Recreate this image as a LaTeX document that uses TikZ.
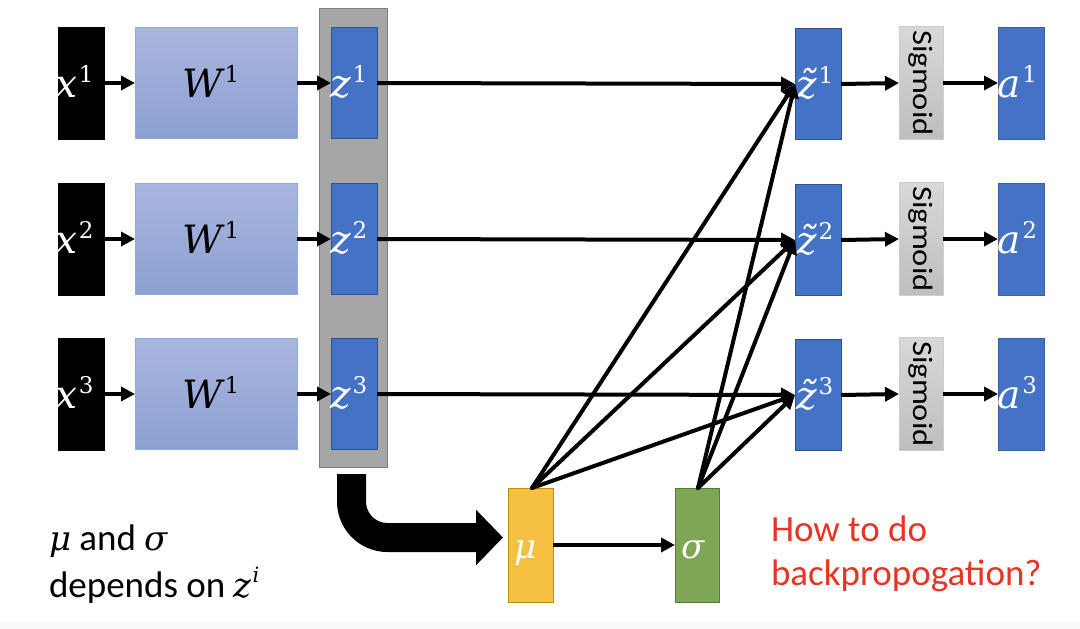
\RequirePackage{fix-cm}
\documentclass[tikz,border=0pt]{standalone}
\usepackage[no-math]{fontspec}
\setmainfont{Carlito}
\newfontfamily\cambria{DejaVu Serif}
\usetikzlibrary{arrows.meta}
\newcommand{\vlab}[2]{{\cambria\fontsize{39}{40}\selectfont\itshape #1}{\cambria\fontsize{23}{23}\selectfont\kern2pt\raisebox{15pt}{#2}}}
\newcommand{\sym}[1]{{\cambria\fontsize{34}{40}\selectfont\itshape #1}}
\definecolor{zblue}{RGB}{68,114,196}
\definecolor{zborder}{RGB}{47,82,143}
\definecolor{wtop}{RGB}{170,182,222}
\definecolor{wbot}{RGB}{140,160,211}
\definecolor{wborder}{RGB}{143,170,220}
\definecolor{grayfill}{RGB}{166,166,166}
\definecolor{grayborder}{RGB}{127,127,127}
\definecolor{sigtop}{RGB}{216,216,216}
\definecolor{sigbot}{RGB}{190,190,190}
\definecolor{sigborder}{RGB}{205,205,205}
\definecolor{mufill}{RGB}{245,192,66}
\definecolor{muborder}{RGB}{191,144,0}
\definecolor{sgfill}{RGB}{126,167,85}
\definecolor{sgborder}{RGB}{80,126,50}
\definecolor{redtxt}{RGB}{233,51,35}
\definecolor{bandgray}{RGB}{249,249,249}
\begin{document}
\begin{tikzpicture}[x=1pt,y=-1pt,
  every node/.style={inner sep=0pt,outer sep=0pt},
  xbox/.style={fill=black,draw=black,line width=0.5pt,minimum width=46pt,minimum height=112pt},
  wbox/.style={top color=wtop,bottom color=wbot,draw=wborder,line width=1pt,minimum width=162pt,minimum height=111pt},
  zbox/.style={fill=zblue,draw=zborder,line width=1pt,minimum width=46pt,minimum height=111pt},
  sigbox/.style={top color=sigtop,bottom color=sigbot,draw=sigborder,line width=1pt,minimum width=44pt,minimum height=113pt},
  abox/.style={fill=zblue,draw=zborder!60!zblue,line width=1pt,minimum width=46pt,minimum height=112pt},
  lbl/.style={anchor=base west,text=white},
  conn/.style={line width=4pt,-{Triangle[length=14pt,width=14pt]}},
  diag/.style={line width=4pt,line cap=round,-{Triangle[length=14pt,width=14pt]}},
  bigtxt/.style={anchor=base west,font=\fontsize{37}{44}\selectfont}
]
\useasboundingbox (0,0) rectangle (1080,629);
\fill[bandgray] (0,621) rectangle (1080,629);

% gray column
\node[fill=grayfill,draw=grayborder,line width=1pt,minimum width=68pt,minimum height=459pt] (col) at (353,237.5) {};

% rows
\foreach \i/\y in {1/83,2/239,3/394}{
  \node[xbox] (x\i) at (81,\y) {};
  \node[lbl] (x\i l) at ([xshift=-3pt,yshift=-14pt]x\i.west) {\vlab{x}{\i}};
  \node[wbox] (w\i) at (216,\y) {};
  \node[anchor=base] (w\i l) at ([xshift=-5pt,yshift=-14pt]w\i.center) {\vlab{W}{1}};
  \node[zbox] (z\i) at (354,\y) {};
  \node[lbl] (z\i l) at ([xshift=-1pt,yshift=-14pt]z\i.west) {\vlab{z}{\i}};
  \node[zbox] (t\i) at (818,\y+1) {};
  \node[lbl] (t\i l) at ([xshift=1pt,yshift=-14pt]t\i.west) {\vlab{\~{z}}{\i}};
  \node[sigbox] (s\i) at (921,\y) {};
  \node[rotate=-90,font=\fontsize{28}{30}\selectfont] (s\i l) at (s\i.center) {\scalebox{1.16}[1]{Sigmoid}};
  \node[abox] (a\i) at (1021,\y) {};
  \node[lbl] (a\i l) at ([xshift=-1pt,yshift=-14pt]a\i.west) {\vlab{a}{\i}};
  \draw[conn] (x\i.east) -- (w\i.west);
  \draw[conn] (w\i.east) -- (z\i.west);
  \draw[conn] (z\i.east) -- (t\i.west);
  \draw[conn] (t\i.east) -- (s\i.west);
  \draw[conn] (s\i.east) -- (a\i.west);
}

% mu and sigma
\node[fill=mufill,draw=muborder,line width=1pt,minimum width=45pt,minimum height=114pt] (mu) at (530.5,545) {};
\node[anchor=base,text=white] (mul) at ([xshift=-5pt,yshift=-13pt]mu.center) {\sym{μ}};
\node[fill=sgfill,draw=sgborder,line width=1pt,minimum width=44pt,minimum height=114pt] (sg) at (697,545) {};
\node[anchor=base,text=white] (sgl) at ([xshift=-4pt,yshift=-13pt]sg.center) {\sym{σ}};
\draw[conn] (mu.east) -- (sg.west);

\coordinate (mutop) at ([xshift=1.5pt]mu.north);
\coordinate (sgtop) at ([xshift=1pt]sg.north);
\foreach \i in {1,2,3}{
  \draw[diag] (mutop) -- (t\i.west);
  \draw[diag] (sgtop) -- (t\i.west);
}

% big bent arrow
\coordinate (bstart) at (351.5,474);
\coordinate (bend) at (mu.west);
\draw[line width=29pt,rounded corners=36pt,-{Triangle[length=27pt,width=54pt]}]
  (bstart) |- ([xshift=-5pt,yshift=7.5pt]bend);

% texts
\node[bigtxt] (note1) at (49,550) {\sym{μ} and \sym{σ}};
\node[bigtxt] (note2) at (49,597) {depends on \sym{z}\raisebox{15pt}{\cambria\itshape\fontsize{21}{21}\selectfont\kern1pt i}};
\node[bigtxt,text=redtxt] (q1) at (771,541) {How to do};
\node[bigtxt,text=redtxt] (q2) at (771,585) {backpropogation?};
\end{tikzpicture}
\end{document}
